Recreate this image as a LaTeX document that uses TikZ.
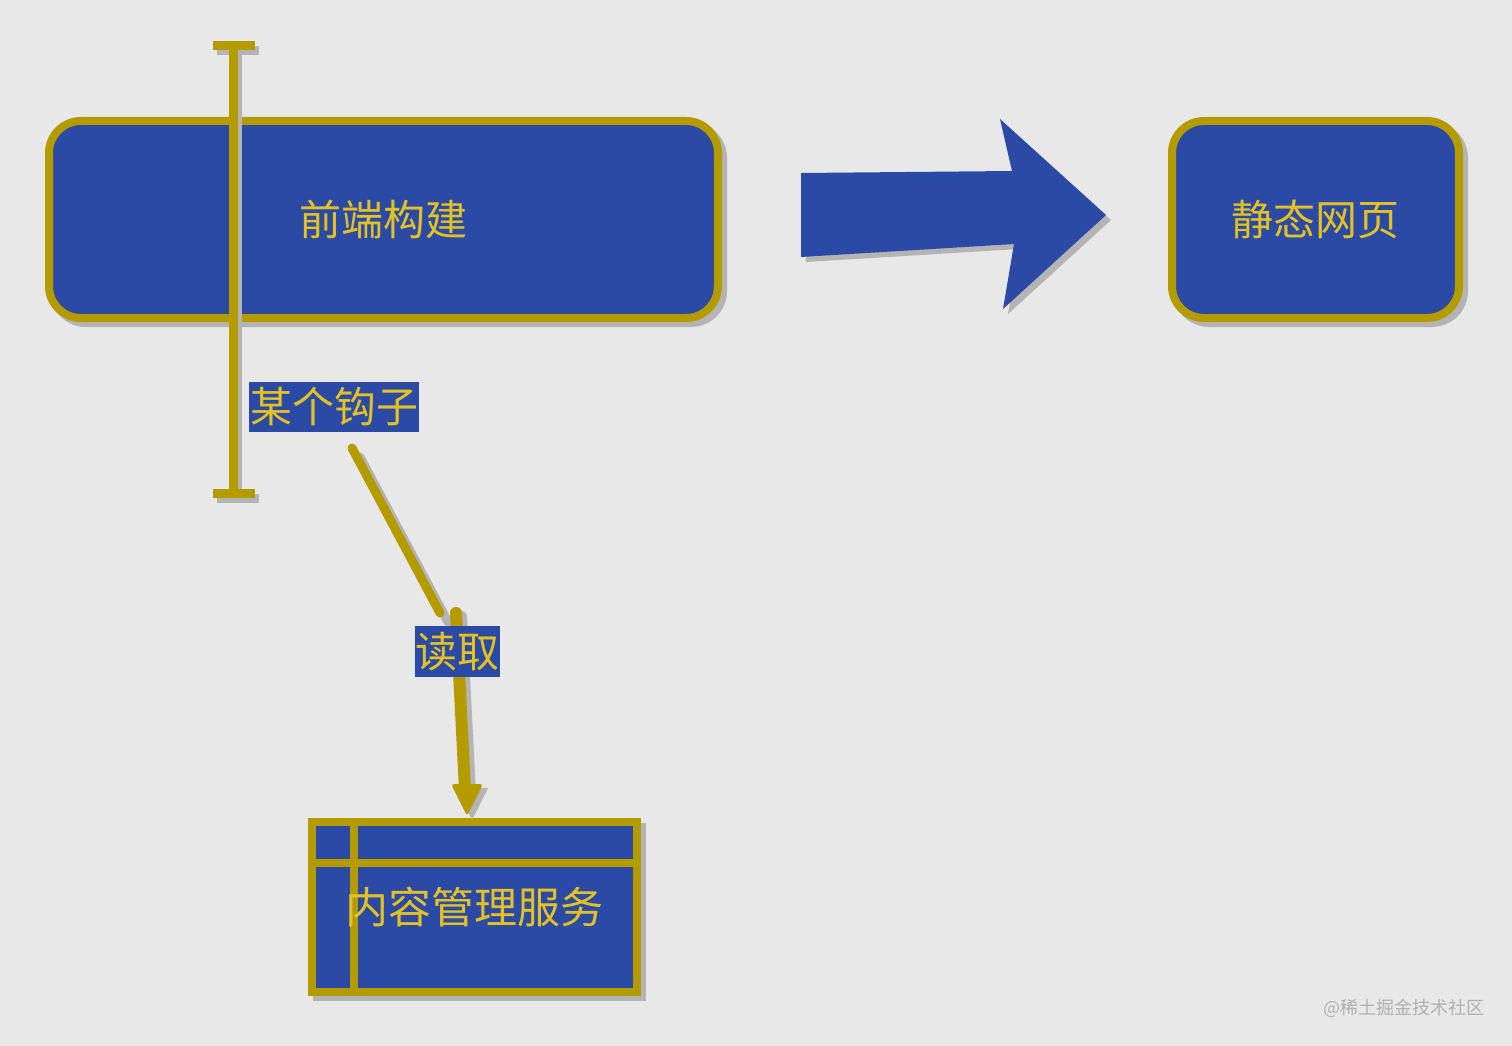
\documentclass[tikz,border=0pt]{standalone}
\usepackage{fontspec}
\setmainfont{Noto Sans CJK SC}
\definecolor{bg}{HTML}{E8E8E8}
\definecolor{boxblue}{HTML}{2A4AA5}
\definecolor{gold}{HTML}{B39B00}
\definecolor{txt}{HTML}{E3C125}
\definecolor{shadowgray}{HTML}{B4B4B4}
\definecolor{markgray}{HTML}{B0B0B0}
\begin{document}
\begin{tikzpicture}[x=1pt,y=-1pt,
  shadowed/.style={preaction={draw=shadowgray,fill=shadowgray,transform canvas={shift={(5pt,-5pt)}}}},
  bigbox/.style={shadowed,rectangle,rounded corners=32pt,draw=gold,fill=boxblue,line width=8pt,
    text=txt,font=\fontsize{42}{42}\selectfont,inner sep=0pt},
  tagbox/.style={rectangle,fill=boxblue,text=txt,font=\fontsize{42}{42}\selectfont,inner sep=0pt},
  goldline/.style={draw=gold,line width=9pt},
  shadeline/.style={draw=shadowgray,line width=9pt,transform canvas={shift={(4pt,-5pt)}}}
]
\useasboundingbox[fill=bg] (0,0) rectangle (1512,1046);

% boxes
\node[bigbox,minimum width=669pt,minimum height=197pt] (build) at (383.5,219.5) {前端构建};
\node[bigbox,minimum width=287pt,minimum height=197pt] (page) at (1315.5,219.5) {静态网页};
\node[bigbox,rounded corners=0pt,minimum width=325pt,minimum height=170pt] (cms) at (474.5,907) {};
\draw[gold,line width=8pt] (cms.north west -| 354,0) -- (cms.south west -| 354,0);
\draw[gold,line width=8pt] (cms.north west |- 0,863) -- (cms.north east |- 0,863);
\node[text=txt,font=\fontsize{43}{43}\selectfont,inner sep=0pt] (cmstext) at (cms.center) {内容管理服务};

% big arrow
\coordinate (a1) at (801,173);
\coordinate (a2) at (1012,171);
\coordinate (a3) at (1000,119);
\coordinate (a4) at (1106,215);
\coordinate (a5) at (1003,309);
\coordinate (a6) at (1014,244);
\coordinate (a7) at (801,257);
\fill[shadowgray,transform canvas={shift={(5pt,-5pt)}}] (a1) -- (a2) -- (a3) -- (a4) -- (a5) -- (a6) -- (a7) -- cycle;
\fill[boxblue] (a1) -- (a2) -- (a3) -- (a4) -- (a5) -- (a6) -- (a7) -- cycle;

% hook bar
\coordinate (hookTop) at (233.5,46);
\coordinate (hookBot) at (233.5,493);
\draw[shadeline] ([xshift=-21pt]hookTop) -- ([xshift=21pt]hookTop);
\draw[shadeline] ([xshift=-21pt]hookBot) -- ([xshift=21pt]hookBot);
\draw[shadeline] (hookTop) -- (hookBot);
\draw[goldline] ([xshift=-21pt]hookTop) -- ([xshift=21pt]hookTop);
\draw[goldline] ([xshift=-21pt]hookBot) -- ([xshift=21pt]hookBot);
\draw[goldline] (hookTop) -- (hookBot);

% hook label
\node[tagbox,minimum width=170pt,minimum height=50pt] (hook) at (334,407) {某个钩子};

% connector from hook to read
\coordinate (l1) at (352,448);
\coordinate (l2) at (440,613);
\draw[shadeline,line cap=round,transform canvas={shift={(4pt,-4pt)}}] (l1) -- (l2);
\draw[goldline,line cap=round] (l1) -- (l2);

% read arrow
\coordinate (r1) at (456,613);
\coordinate (r2) at (465,790);
\coordinate (rtip) at (467,816);
\draw[draw=shadowgray,line width=12pt,line cap=round,transform canvas={shift={(5pt,-4pt)}}] (r1) -- (r2);
\fill[shadowgray,transform canvas={shift={(5pt,-4pt)}}] (451,784) -- (483,784) -- (rtip) -- cycle;
\draw[draw=gold,line width=12pt,line cap=round] (r1) -- (r2);
\fill[gold,rounded corners=3pt] (451,784) -- (483,784) -- (rtip) -- cycle;

\node[tagbox,minimum width=85pt,minimum height=51pt] (read) at (457.5,651.5) {读取};

% watermark
\node[text=markgray,font=\fontsize{18}{18}\selectfont,inner sep=0pt,anchor=east] (wm) at (1485,1008) {@稀土掘金技术社区};
\end{tikzpicture}
\end{document}
